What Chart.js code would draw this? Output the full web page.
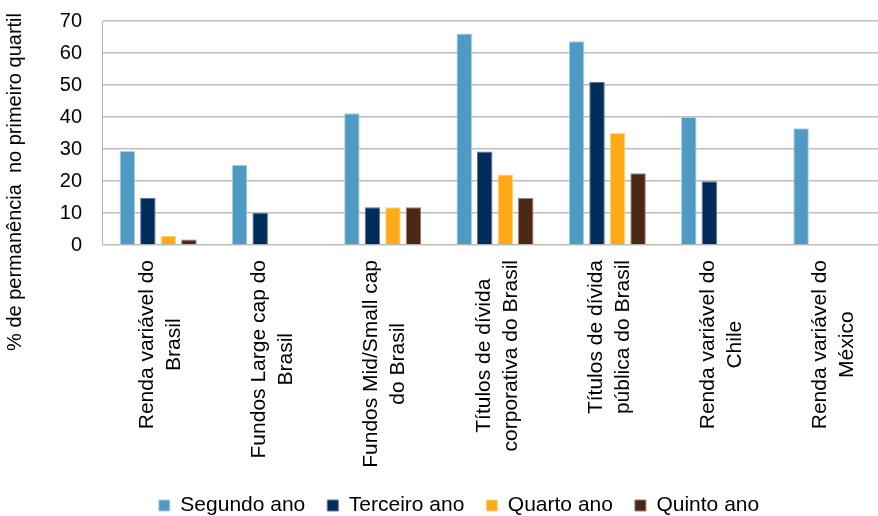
<!DOCTYPE html>
<html>
<head>
  <title>Permanência no primeiro quartil</title>
  <script src="https://cdn.jsdelivr.net/npm/chart.js"></script>
  <style>
    html, body { margin: 0; background: #fff; overflow: hidden; }
  </style>
</head>
<body>
  <!-- canvas a little larger than the window: the original plot runs off the right/bottom edge -->
  <canvas id="chart" width="888" height="526"></canvas>

  <script>
    const categories = [
      ['Renda variável do', 'Brasil'],
      ['Fundos Large cap do', 'Brasil'],
      ['Fundos Mid/Small cap', 'do Brasil'],
      ['Títulos de dívida', 'corporativa do Brasil'],
      ['Títulos de dívida', 'pública do Brasil'],
      ['Renda variável do', 'Chile'],
      ['Renda variável do', 'México']
    ];
    const segundoAno = [29.4, 25.1, 41.2, 66.1, 63.7, 40.0, 36.5];
    const terceiroAno = [14.7, 10.0, 11.8, 29.2, 50.9, 19.9, null];
    const quartoAno = [2.9, null, 11.8, 22.0, 35.0, null, null];
    const quintoAno = [1.7, null, 11.8, 14.7, 22.4, null, null];
    const yTicks = [0, 10, 20, 30, 40, 50, 60, 70];
    const yTitle = '% de permanência  no primeiro quartil';

    const FONT = '"Liberation Sans", Arial, sans-serif';

    // rotated category labels + y title, centred the way the original does it
    const textPlugin = {
      id: 'textPlugin',
      afterDraw(chart) {
        const ctx = chart.ctx;
        const x = chart.scales.x;
        ctx.save();
        ctx.fillStyle = '#000';
        ctx.font = '21px ' + FONT;
        ctx.textBaseline = 'alphabetic';
        ctx.textAlign = 'center';
        categories.forEach((lines, i) => {
          const cx = x.getPixelForValue(i);
          const maxW = Math.max(...lines.map(l => ctx.measureText(l).width));
          ctx.save();
          ctx.translate(cx, 0);
          ctx.rotate(-Math.PI / 2);
          lines.forEach((line, j) => {
            const off = (j - (lines.length - 1) / 2) * 27 + 8;
            ctx.fillText(line, -(260 + maxW / 2), off);
          });
          ctx.restore();
        });

        ctx.font = '20px ' + FONT;
        ctx.textAlign = 'right';
        ctx.rotate(-Math.PI / 2);
        ctx.fillText(yTitle, -13, 21);
        ctx.restore();
      }
    };

    const ctx = document.getElementById('chart').getContext('2d');
    new Chart(ctx, {
      type: 'bar',
      data: {
        labels: categories,
        datasets: [
          { label: 'Segundo ano', data: segundoAno, backgroundColor: '#4f9ac2', borderColor: '#a9d0e6' },
          { label: 'Terceiro ano', data: terceiroAno, backgroundColor: '#002c5c', borderColor: '#5a7796' },
          { label: 'Quarto ano', data: quartoAno, backgroundColor: '#ffab17', borderColor: '#ffd27e' },
          { label: 'Quinto ano', data: quintoAno, backgroundColor: '#4b2716', borderColor: '#9a7f72' }
        ]
      },
      options: {
        responsive: false,
        animation: false,
        devicePixelRatio: 1,
        datasets: {
          bar: {
            categoryPercentage: 0.731,
            barPercentage: 0.756,
            borderWidth: 1
          }
        },
        layout: {
          padding: { top: 21, left: 30, right: 0, bottom: 0 }
        },
        scales: {
          x: {
            grid: { display: false },
            border: { display: false },
            ticks: { display: false },
            afterFit: s => { s.height = 228; }
          },
          y: {
            min: 0,
            max: 70,
            afterBuildTicks: s => { s.ticks = yTicks.map(v => ({ value: v })); },
            grid: { color: '#bdbdbd', lineWidth: 1.5, drawTicks: false },
            border: { color: '#b3b3b3', width: 1 },
            ticks: {
              color: '#000',
              padding: 20,
              font: { family: FONT, size: 20 }
            },
            afterFit: s => {
              s.width = 72;
              s.paddingTop = 0;
              s.paddingBottom = 0;
            }
          }
        },
        plugins: {
          legend: {
            position: 'bottom',
            labels: {
              color: '#000',
              boxWidth: 11,
              boxHeight: 11,
              padding: 22,
              font: { family: FONT, size: 21 }
            }
          },
          tooltip: { enabled: false }
        }
      },
      plugins: [textPlugin]
    });
  </script>
</body>
</html>
